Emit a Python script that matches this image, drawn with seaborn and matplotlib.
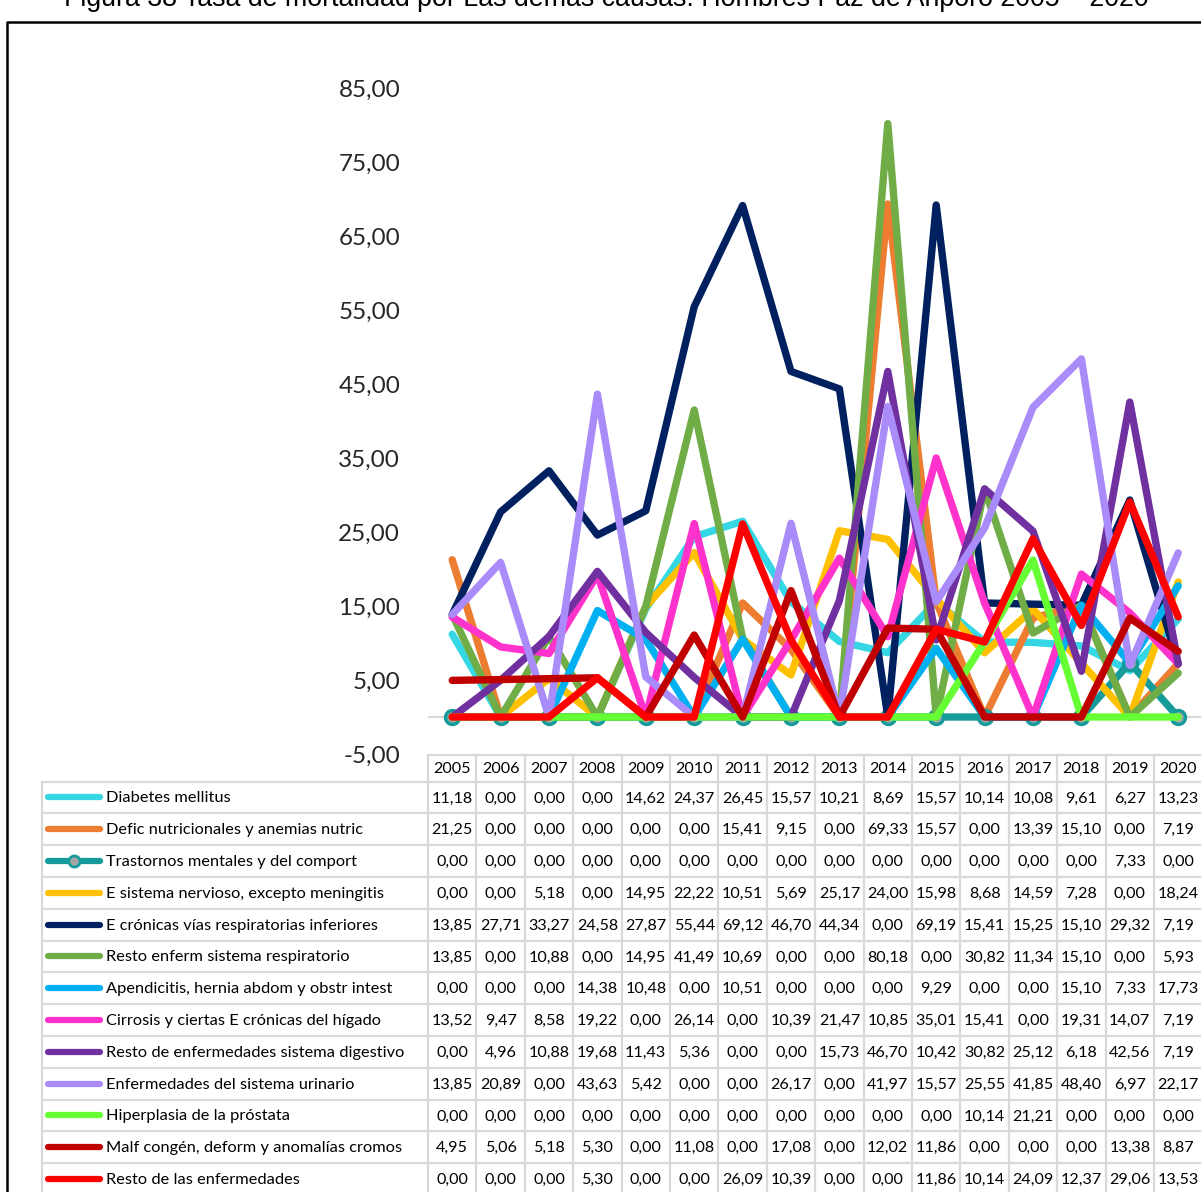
import matplotlib
matplotlib.use("Agg")
import matplotlib.pyplot as plt
import seaborn as sns
import pandas as pd
import numpy as np

years = list(range(2005, 2021))

causes = [
    "Diabetes mellitus",
    "Defic nutricionales y anemias nutric",
    "Trastornos mentales y del comport",
    "E sistema nervioso, excepto meningitis",
    "E crónicas vías respiratorias inferiores",
    "Resto enferm sistema respiratorio",
    "Apendicitis, hernia abdom y obstr intest",
    "Cirrosis y ciertas E crónicas del hígado",
    "Resto de enfermedades sistema digestivo",
    "Enfermedades del sistema urinario",
    "Hiperplasia de la próstata",
    "Malf congén, deform y anomalías cromos",
    "Resto de las enfermedades",
]

diabetes = [11.18, 0.00, 0.00, 0.00, 14.62, 24.37, 26.45, 15.57, 10.21, 8.69, 15.57, 10.14, 10.08, 9.61, 6.27, 13.23]
defic = [21.25, 0.00, 0.00, 0.00, 0.00, 0.00, 15.41, 9.15, 0.00, 69.33, 15.57, 0.00, 13.39, 15.10, 0.00, 7.19]
trastornos = [0.00, 0.00, 0.00, 0.00, 0.00, 0.00, 0.00, 0.00, 0.00, 0.00, 0.00, 0.00, 0.00, 0.00, 7.33, 0.00]
nervioso = [0.00, 0.00, 5.18, 0.00, 14.95, 22.22, 10.51, 5.69, 25.17, 24.00, 15.98, 8.68, 14.59, 7.28, 0.00, 18.24]
cronicas_resp = [13.85, 27.71, 33.27, 24.58, 27.87, 55.44, 69.12, 46.70, 44.34, 0.00, 69.19, 15.41, 15.25, 15.10, 29.32, 7.19]
resto_resp = [13.85, 0.00, 10.88, 0.00, 14.95, 41.49, 10.69, 0.00, 0.00, 80.18, 0.00, 30.82, 11.34, 15.10, 0.00, 5.93]
apendicitis = [0.00, 0.00, 0.00, 14.38, 10.48, 0.00, 10.51, 0.00, 0.00, 0.00, 9.29, 0.00, 0.00, 15.10, 7.33, 17.73]
cirrosis = [13.52, 9.47, 8.58, 19.22, 0.00, 26.14, 0.00, 10.39, 21.47, 10.85, 35.01, 15.41, 0.00, 19.31, 14.07, 7.19]
resto_digest = [0.00, 4.96, 10.88, 19.68, 11.43, 5.36, 0.00, 0.00, 15.73, 46.70, 10.42, 30.82, 25.12, 6.18, 42.56, 7.19]
urinario = [13.85, 20.89, 0.00, 43.63, 5.42, 0.00, 0.00, 26.17, 0.00, 41.97, 15.57, 25.55, 41.85, 48.40, 6.97, 22.17]
prostata = [0.00, 0.00, 0.00, 0.00, 0.00, 0.00, 0.00, 0.00, 0.00, 0.00, 0.00, 10.14, 21.21, 0.00, 0.00, 0.00]
malf = [4.95, 5.06, 5.18, 5.30, 0.00, 11.08, 0.00, 17.08, 0.00, 12.02, 11.86, 0.00, 0.00, 0.00, 13.38, 8.87]
resto_enf = [0.00, 0.00, 0.00, 5.30, 0.00, 0.00, 26.09, 10.39, 0.00, 0.00, 11.86, 10.14, 24.09, 12.37, 29.06, 13.53]

series = [diabetes, defic, trastornos, nervioso, cronicas_resp, resto_resp, apendicitis,
          cirrosis, resto_digest, urinario, prostata, malf, resto_enf]

colors = ["#36d7e5", "#ed7d31", "#169b9b", "#ffc000", "#002060", "#70ad47", "#00b0f0",
          "#ff33cc", "#7030a0", "#a98bfa", "#66ff33", "#c00000", "#ff0000"]

y_ticks = [-5, 5, 15, 25, 35, 45, 55, 65, 75, 85]

title = "Figura 38 Tasa de mortalidad por Las demás causas. Hombres Paz de Ariporo 2005 – 2020"

# long-form table for seaborn
rows = []
for name, vals in zip(causes, series):
    for i, (yr, v) in enumerate(zip(years, vals)):
        rows.append({"cause": name, "pos": i, "year": yr, "value": v})
df = pd.DataFrame(rows)

sns.set_theme(style="white")
plt.rcParams["font.family"] = ["Lato", "DejaVu Sans"]

W, H = 1201, 1192
fig = plt.figure(figsize=(W / 100, H / 100), dpi=100)

# pixel layout
tab_left = 428
col_w = 48.4
n = len(years)
tab_right = tab_left + n * col_w
plot_top, plot_bot = 88, 754
legend_left = 42
head_top = 755
row_h = 31.8
head_h = 26.5

ax = fig.add_axes([tab_left / W, 1 - plot_bot / H, (tab_right - tab_left) / W, (plot_bot - plot_top) / H])
ax.set_xlim(-0.5, n - 0.5)
ax.set_ylim(-5, 85)
ax.axhline(0, color="#d9d9d9", lw=1.5, zorder=0)

for k, (name, col) in enumerate(zip(causes, colors)):
    sub = df[df["cause"] == name]
    kw = {}
    if name.startswith("Trastornos"):
        kw = dict(marker="o", markersize=10, markerfacecolor="#a5a5a5",
                  markeredgecolor=col, markeredgewidth=2.5)
    sns.lineplot(data=sub, x="pos", y="value", color=col, lw=5.3, ax=ax, sort=False,
                 legend=False, zorder=3 + k, solid_capstyle="round",
                 solid_joinstyle="round", **kw)

ax.set_yticks(y_ticks)
ax.set_yticklabels([f"{t:.2f}".replace(".", ",") for t in y_ticks], fontsize=17.5)
ax.tick_params(axis="y", length=0, pad=20)
ax.set_xticks([])
ax.set_xlabel("")
ax.set_ylabel("")
for s in ax.spines.values():
    s.set_visible(False)

# overlay in pixel coordinates for the data table, frame and title
ov = fig.add_axes([0, 0, 1, 1], zorder=10)
ov.set_xlim(0, W)
ov.set_ylim(H, 0)
ov.axis("off")
ov.patch.set_alpha(0)

grid_c = "#d9d9d9"
glw = 1.6
rows_top = head_top + head_h
n_rows = len(causes)
rows_bot = rows_top + n_rows * row_h

# vertical lines
for j in range(n + 1):
    x = tab_left + j * col_w
    ov.plot([x, x], [head_top, rows_bot + 20], color=grid_c, lw=glw, zorder=1)
ov.plot([legend_left, legend_left], [rows_top, rows_bot + 20], color=grid_c, lw=glw)
# horizontal lines
ov.plot([tab_left, tab_right], [head_top, head_top], color=grid_c, lw=glw)
for r in range(n_rows + 1):
    y = rows_top + r * row_h
    ov.plot([legend_left, tab_right], [y, y], color=grid_c, lw=glw)

# header years
for j, yr in enumerate(years):
    ov.text(tab_left + (j + 0.5) * col_w, head_top + head_h / 2 + 1, str(yr),
            ha="center", va="center", fontsize=11.6, color="#000000")

# rows: legend key, label, values
for r, (name, vals, col) in enumerate(zip(causes, series, colors)):
    yc = rows_top + (r + 0.5) * row_h
    ov.plot([48, 100], [yc, yc], color=col, lw=4.5, solid_capstyle="round")
    if name.startswith("Trastornos"):
        ov.plot([74], [yc], marker="o", markersize=8, markerfacecolor="#a5a5a5",
                markeredgecolor=col, markeredgewidth=2)
    ov.text(106, yc + 1, name, ha="left", va="center", fontsize=11.8, color="#000000")
    for j, v in enumerate(vals):
        ov.text(tab_left + (j + 0.5) * col_w, yc + 1, f"{v:.2f}".replace(".", ","),
                ha="center", va="center", fontsize=11.6, color="#000000")

# outer frame
ov.plot([7, 7, W + 5], [H + 5, 22, 22], color="#000000", lw=1.8)

# title (partly above the canvas)
ov.text(606, 6, title, ha="center", va="baseline", fontsize=19.3,
        family=["Liberation Sans", "DejaVu Sans"], color="#000000")

fig.savefig("out.png", dpi=100)
